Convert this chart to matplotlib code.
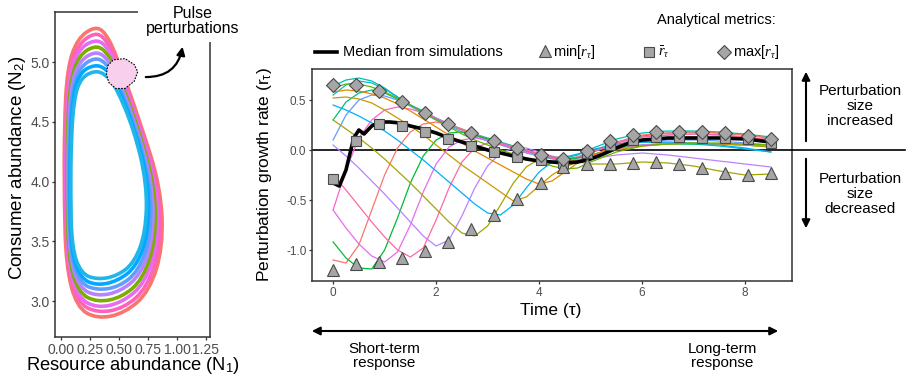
import matplotlib
matplotlib.use("Agg")
import matplotlib.pyplot as plt
from matplotlib.path import Path
from matplotlib.patches import PathPatch, Polygon, FancyArrowPatch, Rectangle

plt.rcParams['font.family'] = ['Liberation Sans', 'DejaVu Sans']
plt.rcParams['mathtext.fontset'] = 'custom'
plt.rcParams['mathtext.rm'] = 'Liberation Sans'
plt.rcParams['mathtext.it'] = 'Liberation Serif:italic'
plt.rcParams['axes.unicode_minus'] = False

# ---- left panel: consumer-resource cycles, inner (blue) to outer (red) ----
cycle_n1 = [
    [.29, .17, .11, .085, .08, .09, .17, .31, .48, .63, .73, .74, .63, .47, .38],
    [.29, .166, .101, .076, .072, .083, .164, .31, .49, .649, .751, .757, .637, .471, .38],
    [.29, .161, .093, .068, .064, .076, .159, .31, .50, .667, .773, .774, .644, .473, .38],
    [.29, .157, .084, .059, .056, .069, .153, .31, .51, .686, .794, .791, .651, .474, .38],
    [.29, .153, .076, .051, .049, .061, .147, .31, .52, .704, .816, .809, .659, .476, .38],
    [.29, .149, .067, .042, .041, .054, .141, .31, .53, .723, .837, .826, .666, .477, .38],
    [.29, .144, .059, .034, .033, .047, .136, .31, .54, .741, .859, .843, .673, .479, .38],
    [.29, .14, .05, .025, .025, .04, .13, .31, .55, .76, .88, .86, .68, .48, .38],
]
cycle_n2 = [
    [4.93, 4.87, 4.70, 4.35, 3.90, 3.45, 3.23, 3.18, 3.21, 3.32, 3.58, 3.98, 4.43, 4.80, 4.90],
    [4.98, 4.92, 4.74, 4.36, 3.89, 3.43, 3.19, 3.13, 3.17, 3.29, 3.56, 3.98, 4.44, 4.84, 4.95],
    [5.04, 4.96, 4.77, 4.38, 3.89, 3.41, 3.15, 3.09, 3.12, 3.25, 3.54, 3.97, 4.45, 4.87, 5.00],
    [5.09, 5.01, 4.81, 4.39, 3.88, 3.39, 3.11, 3.04, 3.08, 3.22, 3.52, 3.97, 4.46, 4.91, 5.05],
    [5.14, 5.06, 4.84, 4.41, 3.87, 3.36, 3.07, 2.99, 3.03, 3.18, 3.51, 3.96, 4.47, 4.94, 5.10],
    [5.19, 5.11, 4.88, 4.42, 3.86, 3.34, 3.03, 2.94, 2.99, 3.15, 3.49, 3.96, 4.48, 4.98, 5.15],
    [5.25, 5.15, 4.91, 4.44, 3.86, 3.32, 2.99, 2.90, 2.94, 3.11, 3.47, 3.95, 4.49, 5.01, 5.20],
    [5.30, 5.20, 4.95, 4.45, 3.85, 3.30, 2.95, 2.85, 2.90, 3.08, 3.45, 3.95, 4.50, 5.05, 5.25],
]
cycle_colors = ['#21B6EA', '#00A9FF', '#619CFF', '#B983FF', '#7CAE00',
                '#E76BF3', '#FF62BC', '#F8766D']
pulse_n1 = [0.40, 0.45, 0.55, 0.63, 0.66, 0.63, 0.55, 0.47, 0.41, 0.39]
pulse_n2 = [4.97, 5.02, 5.03, 4.98, 4.92, 4.84, 4.78, 4.78, 4.83, 4.90]

# ---- right panel: perturbation growth rate over time ----
tau = [0, .25, .5, .75, 1, 1.25, 1.5, 1.75, 2, 2.25, 2.5, 2.75, 3, 3.25,
       3.5, 3.75, 4, 4.25, 4.5, 4.75, 5, 5.5, 6, 6.5, 7, 7.5, 8, 8.5]
pert_r = [
    [0.64, 0.70, 0.72, 0.69, 0.62, 0.53, 0.45, 0.39, 0.32, 0.26, 0.21, 0.16, 0.12, 0.08,
     0.04, 0.0, -0.04, -0.07, -0.08, -0.05, 0.01, 0.11, 0.17, 0.19, 0.19, 0.18, 0.16, 0.13],
    [0.55, 0.65, 0.69, 0.67, 0.61, 0.53, 0.45, 0.38, 0.31, 0.25, 0.2, 0.15, 0.11, 0.07,
     0.03, -0.01, -0.05, -0.08, -0.09, -0.07, -0.02, 0.05, 0.08, 0.07, 0.06, 0.04, 0.01, -0.02],
    [0.30, 0.48, 0.57, 0.6, 0.57, 0.51, 0.44, 0.37, 0.31, 0.25, 0.2, 0.15, 0.1, 0.06,
     0.02, -0.01, -0.05, -0.08, -0.1, -0.08, -0.03, 0.07, 0.14, 0.17, 0.18, 0.17, 0.15, 0.12],
    [0.1, 0.35, 0.5, 0.55, 0.54, 0.5, 0.44, 0.37, 0.3, 0.24, 0.18, 0.13, 0.09, 0.05,
     0.01, -0.03, -0.06, -0.09, -0.11, -0.1, -0.06, 0.03, 0.08, 0.1, 0.1, 0.09, 0.07, 0.05],
    [-0.6, -0.2, 0.12, 0.3, 0.4, 0.43, 0.41, 0.37, 0.32, 0.26, 0.2, 0.15, 0.1, 0.06,
     0.02, -0.02, -0.05, -0.08, -0.1, -0.08, -0.03, 0.07, 0.13, 0.15, 0.16, 0.15, 0.13, 0.1],
    [-1.1, -1.13, -0.95, -0.6, -0.25, 0.02, 0.18, 0.26, 0.28, 0.25, 0.21, 0.16, 0.11, 0.07,
     0.03, 0.0, -0.04, -0.07, -0.09, -0.07, -0.02, 0.08, 0.15, 0.17, 0.18, 0.17, 0.15, 0.12],
    [-0.92, -1.08, -1.18, -1.19, -1.0, -0.68, -0.33, -0.06, 0.1, 0.17, 0.18, 0.15, 0.11, 0.07,
     0.03, 0.0, -0.04, -0.07, -0.09, -0.08, -0.05, 0.02, 0.05, 0.06, 0.06, 0.06, 0.05, 0.03],
    [-0.6, -0.78, -0.94, -1.06, -1.12, -1.02, -0.75, -0.42, -0.14, 0.03, 0.1, 0.12, 0.1, 0.07,
     0.03, 0.0, -0.04, -0.07, -0.1, -0.1, -0.07, 0.01, 0.05, 0.07, 0.07, 0.06, 0.05, 0.04],
    [-0.25, -0.4, -0.56, -0.72, -0.87, -1.0, -1.07, -0.98, -0.7, -0.38, -0.12, 0.02, 0.07, 0.06,
     0.03, 0.0, -0.04, -0.08, -0.1, -0.1, -0.07, 0.05, 0.13, 0.15, 0.16, 0.15, 0.13, 0.1],
    [0.05, -0.06, -0.18, -0.31, -0.44, -0.58, -0.72, -0.86, -0.96, -0.9, -0.66, -0.38, -0.16, -0.03,
     0.02, 0.02, -0.02, -0.06, -0.09, -0.1, -0.09, -0.05, -0.03, -0.05, -0.08, -0.11, -0.14, -0.17],
    [0.3, 0.21, 0.12, 0.02, -0.09, -0.21, -0.33, -0.46, -0.59, -0.72, -0.83, -0.86, -0.76, -0.55,
     -0.33, -0.17, -0.09, -0.07, -0.09, -0.12, -0.14, -0.14, -0.12, -0.13, -0.16, -0.21, -0.25, -0.24],
    [0.45, 0.4, 0.34, 0.27, 0.19, 0.1, 0.0, -0.1, -0.21, -0.32, -0.43, -0.54, -0.63, -0.65,
     -0.55, -0.38, -0.22, -0.12, -0.07, -0.04, 0.0, 0.06, 0.08, 0.08, 0.07, 0.05, 0.02, -0.02],
    [0.52, 0.53, 0.51, 0.47, 0.4, 0.32, 0.24, 0.15, 0.05, -0.05, -0.15, -0.24, -0.33, -0.42,
     -0.51, -0.47, -0.36, -0.25, -0.17, -0.12, -0.08, 0.0, 0.04, 0.06, 0.07, 0.06, 0.05, 0.03],
    [0.58, 0.6, 0.59, 0.56, 0.52, 0.46, 0.39, 0.31, 0.23, 0.15, 0.07, -0.01, -0.08, -0.15,
     -0.22, -0.29, -0.34, -0.31, -0.22, -0.13, -0.06, 0.04, 0.1, 0.12, 0.13, 0.12, 0.11, 0.08],
    [0.62, 0.66, 0.66, 0.63, 0.58, 0.52, 0.45, 0.37, 0.3, 0.23, 0.16, 0.1, 0.05, 0.0,
     -0.04, -0.08, -0.12, -0.16, -0.19, -0.18, -0.12, -0.02, 0.04, 0.06, 0.07, 0.07, 0.06, 0.05],
]
pert_colors = ['#00C0AF', '#00BCD8', '#00BF7D', '#619CFF', '#FD61D1', '#F8766D', '#00BA38',
               '#E76BF3', '#FF67A4', '#B983FF', '#A3A500', '#00B0F6', '#C99800', '#E58700',
               '#6BB100']

median_t = [0, 0.12, 0.25, 0.4, 0.5, 0.6, 0.75, 0.9, 1.1, 1.3, 1.5, 1.75, 2.0, 2.25, 2.5,
            2.75, 3.0, 3.25, 3.5, 3.75, 4.0, 4.25, 4.5, 4.75, 5.0, 5.25, 5.5, 5.75, 6.0,
            6.5, 7.0, 7.5, 8.0, 8.5]
median_r = [-0.33, -0.36, -0.2, 0.12, 0.2, 0.16, 0.24, 0.28, 0.28, 0.27, 0.24, 0.21, 0.17,
            0.12, 0.08, 0.04, 0.0, -0.03, -0.06, -0.09, -0.11, -0.12, -0.13, -0.12, -0.09,
            -0.04, 0.02, 0.07, 0.1, 0.12, 0.12, 0.12, 0.11, 0.08]

metric_t = [0.0, 0.45, 0.89, 1.34, 1.79, 2.24, 2.68, 3.13, 3.58, 4.03, 4.47, 4.92, 5.37,
            5.82, 6.26, 6.71, 7.16, 7.61, 8.05, 8.5]
r_min = [-1.20, -1.14, -1.12, -1.08, -1.01, -0.92, -0.79, -0.65, -0.49, -0.33, -0.17, -0.14,
         -0.14, -0.13, -0.12, -0.14, -0.18, -0.23, -0.25, -0.23]
r_mean = [-0.29, 0.09, 0.26, 0.24, 0.18, 0.11, 0.04, -0.02, -0.07, -0.10, -0.13, -0.03, 0.05,
          0.10, 0.13, 0.13, 0.12, 0.12, 0.11, 0.07]
r_max = [0.65, 0.65, 0.59, 0.48, 0.37, 0.26, 0.17, 0.09, 0.02, -0.05, -0.09, -0.01, 0.09,
         0.15, 0.18, 0.18, 0.18, 0.17, 0.14, 0.11]

TICK_GREY = '#4D4D4D'
FRAME = '#333333'
MARK_FILL = '#A6A6A6'
MARK_EDGE = '#4A4A4A'


def smooth_loop(xs, ys):
    # closed quadratic-bezier path through the midpoints of the read points
    pts = list(zip(xs, ys))
    n = len(pts)
    mids = [((pts[i][0] + pts[(i + 1) % n][0]) / 2, (pts[i][1] + pts[(i + 1) % n][1]) / 2)
            for i in range(n)]
    verts = [mids[-1]]
    codes = [Path.MOVETO]
    for i in range(n):
        verts += [pts[i], mids[i]]
        codes += [Path.CURVE3, Path.CURVE3]
    return Path(verts, codes)


def style_axes(ax, fs):
    for s in ax.spines.values():
        s.set_color(FRAME)
        s.set_linewidth(1.1)
    ax.tick_params(colors=FRAME, labelcolor=TICK_GREY, labelsize=fs, length=2.5, width=0.9, pad=1.5)


fig = plt.figure(figsize=(9.08, 3.8), dpi=100)

# left panel
ax1 = fig.add_axes([55 / 908, 43 / 380, 155 / 908, 325 / 380])
for xs, ys, col in reversed(list(zip(cycle_n1, cycle_n2, cycle_colors))):
    ax1.add_patch(PathPatch(smooth_loop(xs, ys), fill=False, edgecolor=col, lw=2.6))
ax1.add_patch(Polygon(list(zip(pulse_n1, pulse_n2)), closed=True, facecolor='#F8D0EE',
                      edgecolor='black', lw=0.8, linestyle=(0, (1.5, 1.2)), zorder=3))
ax1.set_xlim(-0.055, 1.285)
ax1.set_ylim(2.70, 5.42)
ax1.set_xticks([0, 0.25, 0.5, 0.75, 1.0, 1.25])
ax1.set_xticklabels(['0.00', '0.25', '0.50', '0.75', '1.00', '1.25'])
ax1.set_yticks([3.0, 3.5, 4.0, 4.5, 5.0])
ax1.set_yticklabels(['3.0', '3.5', '4.0', '4.5', '5.0'])
style_axes(ax1, 10)

# right panel
ax2 = fig.add_axes([312 / 908, 99 / 380, 480 / 908, 212 / 380])
ax2.axhline(0, color='black', lw=1.2, zorder=1.5)
for vals, col in zip(pert_r, pert_colors):
    ax2.plot(tau, vals, color=col, lw=0.9, zorder=2)
ax2.plot(median_t, median_r, color='black', lw=2.6, zorder=3, solid_joinstyle='round')
ax2.plot(metric_t, r_mean, 's', ms=6.5, mfc=MARK_FILL, mec=MARK_EDGE, mew=0.8, zorder=4)
ax2.plot(metric_t, r_min, '^', ms=9, mfc=MARK_FILL, mec=MARK_EDGE, mew=0.8, zorder=4)
ax2.plot(metric_t, r_max, 'D', ms=7, mfc=MARK_FILL, mec=MARK_EDGE, mew=0.8, zorder=4)
ax2.set_xlim(-0.41, 8.91)
ax2.set_ylim(-1.31, 0.81)
ax2.set_xticks([0, 2, 4, 6, 8])
ax2.set_yticks([-1.0, -0.5, 0.0, 0.5])
ax2.set_yticklabels(['-1.0', '-0.5', '0.0', '0.5'])
style_axes(ax2, 8.5)

# overlay in pixel coordinates for labels, legend and arrows
ov = fig.add_axes([0, 0, 1, 1], facecolor='none')
ov.set_xlim(0, 908)
ov.set_ylim(380, 0)
ov.axis('off')

ov.add_patch(Rectangle((138, 0), 110, 42, facecolor='white', edgecolor='none'))
ov.text(193, 21, 'Pulse\nperturbations', ha='center', va='center', fontsize=11.5, linespacing=1.0)
ov.add_patch(FancyArrowPatch((143, 77), (183, 44), connectionstyle='arc3,rad=0.45',
                             arrowstyle='-|>', mutation_scale=12, lw=1.6, color='black'))

ov.text(18, 168, 'Consumer abundance (N$_2$)', rotation=90, ha='center', va='center', fontsize=13.5)
ov.text(133, 366, 'Resource abundance (N$_1$)', ha='center', va='center', fontsize=13.2)
ov.text(265, 175, 'Perturbation growth rate (r$_\\mathregular{τ}$)', rotation=90,
        ha='center', va='center', fontsize=12.5)
ov.text(551, 311, 'Time (τ)', ha='center', va='center', fontsize=12.5)

# legend
ov.text(716, 20, 'Analytical metrics:', ha='center', va='center', fontsize=10.5)
ov.plot([315, 337], [52, 52], color='black', lw=2.6)
ov.text(343, 52, 'Median from simulations', ha='left', va='center', fontsize=10.5)
ov.plot([545], [51], '^', ms=9, mfc=MARK_FILL, mec=MARK_EDGE, mew=0.8)
ov.text(553, 52, 'min$[r_\\tau]$', ha='left', va='center', fontsize=10.5)
ov.plot([649], [52], 's', ms=6.5, mfc=MARK_FILL, mec=MARK_EDGE, mew=0.8)
ov.text(658, 52, '$\\bar{r}_\\tau$', ha='left', va='center', fontsize=10.5)
ov.plot([724], [52], 'D', ms=7, mfc=MARK_FILL, mec=MARK_EDGE, mew=0.8)
ov.text(733, 52, 'max$[r_\\tau]$', ha='left', va='center', fontsize=10.5)

# right-side size arrows
ov.plot([792, 905], [150, 150], color='black', lw=1.2)
ov.annotate('', xy=(806, 69), xytext=(806, 144),
            arrowprops=dict(arrowstyle='-|>', lw=1.5, color='black', mutation_scale=12))
ov.annotate('', xy=(806, 231), xytext=(806, 156),
            arrowprops=dict(arrowstyle='-|>', lw=1.5, color='black', mutation_scale=12))
ov.text(860, 106, 'Perturbation\nsize\nincreased', ha='center', va='center', fontsize=11,
        linespacing=1.05)
ov.text(860, 194, 'Perturbation\nsize\ndecreased', ha='center', va='center', fontsize=11,
        linespacing=1.05)

# bottom time-scale arrow
ov.annotate('', xy=(309, 331), xytext=(781, 331),
            arrowprops=dict(arrowstyle='<|-|>', lw=1.5, color='black', mutation_scale=12))
ov.text(384, 356, 'Short-term\nresponse', ha='center', va='center', fontsize=11, linespacing=1.05)
ov.text(722, 356, 'Long-term\nresponse', ha='center', va='center', fontsize=11, linespacing=1.05)

fig.savefig('out.png', dpi=100)
